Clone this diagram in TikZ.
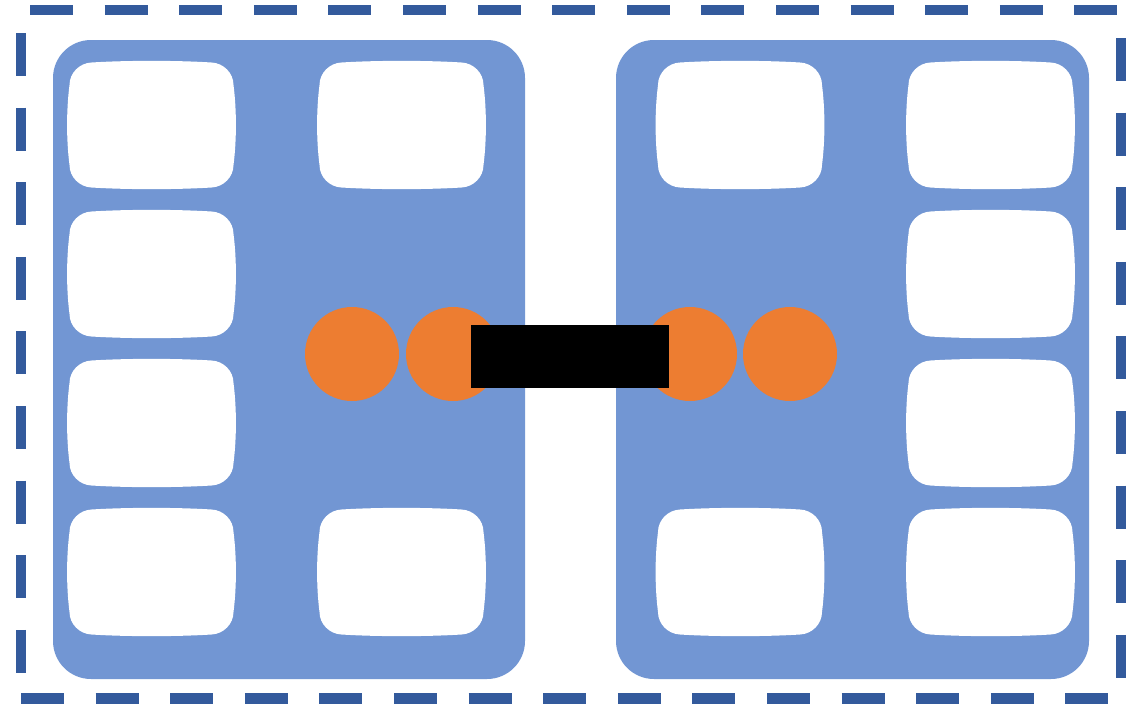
\documentclass[tikz,border=0pt]{standalone}
\definecolor{panelblue}{HTML}{7296D3}
\definecolor{dashblue}{HTML}{335A9C}
\definecolor{dotorange}{HTML}{ED7D31}
\tikzset{
  panel/.style={fill=panelblue, rounded corners=38pt},
  dashside/.style={draw=dashblue, line width=10.5pt, dash pattern=on 43pt off 31.6pt},
  dot/.style={circle, fill=dotorange, minimum size=94pt, inner sep=0pt, draw=none},
  link/.style={fill=black},
  wbox/.pic={
    \fill[white] (-60,-62.5) .. controls (-25,-64.7) and (25,-64.7) .. (60,-62.5)
      .. controls (72,-62) and (82,-52) .. (82,-40)
      .. controls (85.2,-15) and (85.2,15) .. (82,40)
      .. controls (82,52) and (72,62) .. (60,62.5)
      .. controls (25,64.7) and (-25,64.7) .. (-60,62.5)
      .. controls (-72,62) and (-82,52) .. (-82,40)
      .. controls (-85.2,15) and (-85.2,-15) .. (-82,-40)
      .. controls (-82,-52) and (-72,-62) .. (-60,-62.5) -- cycle;
  }
}
\begin{document}
\begin{tikzpicture}[x=1pt,y=-1pt]
\useasboundingbox (0,0) rectangle (1135,707);
% dashed frame
\draw[dashside] (30,10) -- (1117,10);
\draw[dashside] (21,698.5) -- (1109,698.5);
\draw[dashside] (21,33) -- (21,673);
\draw[dashside] (1121,38) -- (1121,678);
% panels
\fill[panel] (53,40) rectangle (525,679);
\fill[panel] (616,40) rectangle (1089,679);
% white boxes, left panel
\pic (L11) at (151.5,125) {wbox};
\pic (L21) at (151.5,274) {wbox};
\pic (L31) at (151.5,423) {wbox};
\pic (L41) at (151.5,572) {wbox};
\pic (L12) at (401.5,125) {wbox};
\pic (L42) at (401.5,572) {wbox};
% white boxes, right panel
\pic (R11) at (740,125) {wbox};
\pic (R41) at (740,572) {wbox};
\pic (R12) at (990.5,125) {wbox};
\pic (R22) at (990.5,274) {wbox};
\pic (R32) at (990.5,423) {wbox};
\pic (R42) at (990.5,572) {wbox};
% dots
\node[dot] (d1) at (352,354) {};
\node[dot] (d2) at (453,354) {};
\node[dot] (d3) at (690,354) {};
\node[dot] (d4) at (790,354) {};
% link bar
\coordinate (barA) at (471,325);
\coordinate (barB) at (669,388);
\fill[link] (barA) rectangle (barB);
\end{tikzpicture}
\end{document}
